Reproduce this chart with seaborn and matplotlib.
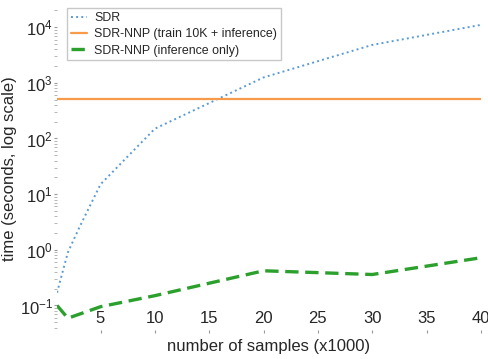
import numpy as np
import pandas as pd
import matplotlib
matplotlib.use("Agg")
import matplotlib.pyplot as plt
import seaborn as sns
from matplotlib.ticker import LogLocator, NullFormatter, FixedLocator

# data
sdr_x = [1, 2, 3, 5, 10, 20, 30, 40]
sdr_y = [0.17, 0.9, 2.4, 15, 150, 1250, 4800, 11000]
nnp_train_x = [1, 40]
nnp_train_y = [520, 520]
nnp_inf_x = [1, 2, 5, 10, 20, 30, 40]
nnp_inf_y = [0.10, 0.059, 0.095, 0.15, 0.42, 0.36, 0.72]
x_ticks = [5, 10, 15, 20, 25, 30, 35, 40]
y_ticks = [0.1, 1, 10, 100, 1000, 10000]

sns.set_style("white")
plt.rcParams['font.family'] = ['Liberation Sans', 'DejaVu Sans']

fig, ax = plt.subplots(figsize=(4.89, 3.59), dpi=100)
fig.subplots_adjust(left=0.1166, right=0.9836, top=0.986, bottom=0.0724)

sns.lineplot(x=sdr_x, y=sdr_y, ax=ax, color="#5b9bd5", linestyle=":", linewidth=1.4, label="SDR")
sns.lineplot(x=nnp_train_x, y=nnp_train_y, ax=ax, color="#f79a4a", linestyle="-", linewidth=1.6,
             label="SDR-NNP (train 10K + inference)")
sns.lineplot(x=nnp_inf_x, y=nnp_inf_y, ax=ax, color="#2ca02c", linestyle=(0, (4, 2)), linewidth=2.4,
             label="SDR-NNP (inference only)")

ax.set_yscale("log")
ax.set_xlim(1, 40)
ax.set_ylim(0.032, 2.5e4)
ax.set_xticks(x_ticks)
ax.yaxis.set_major_locator(FixedLocator(y_ticks))
ax.yaxis.set_minor_locator(LogLocator(base=10, subs=np.arange(2, 10), numticks=12))
ax.yaxis.set_minor_formatter(NullFormatter())
for s in ax.spines.values():
    s.set_visible(False)
ax.tick_params(axis='y', which='major', labelsize=12, length=2, color="#999999", direction='out', pad=1, left=True)
ax.tick_params(axis='y', which='minor', length=2, color="#aaaaaa", left=True)
ax.tick_params(axis='x', which='major', labelsize=12, length=2, color="#999999", direction='in', pad=-16, bottom=True)

ax.set_xlabel("number of samples (x1000)", fontsize=12, labelpad=4)
ax.set_ylabel("time (seconds, log scale)", fontsize=12, labelpad=2)

leg = ax.legend(loc="upper left", fontsize=8.9, frameon=True, fancybox=False,
                borderpad=0.3, labelspacing=0.35, handlelength=1.3, handletextpad=0.6,
                borderaxespad=0, bbox_to_anchor=(0.024, 0.99))
leg.get_frame().set_edgecolor("#bbbbbb")
leg.get_frame().set_linewidth(1.0)

fig.savefig("out.png", dpi=100)
